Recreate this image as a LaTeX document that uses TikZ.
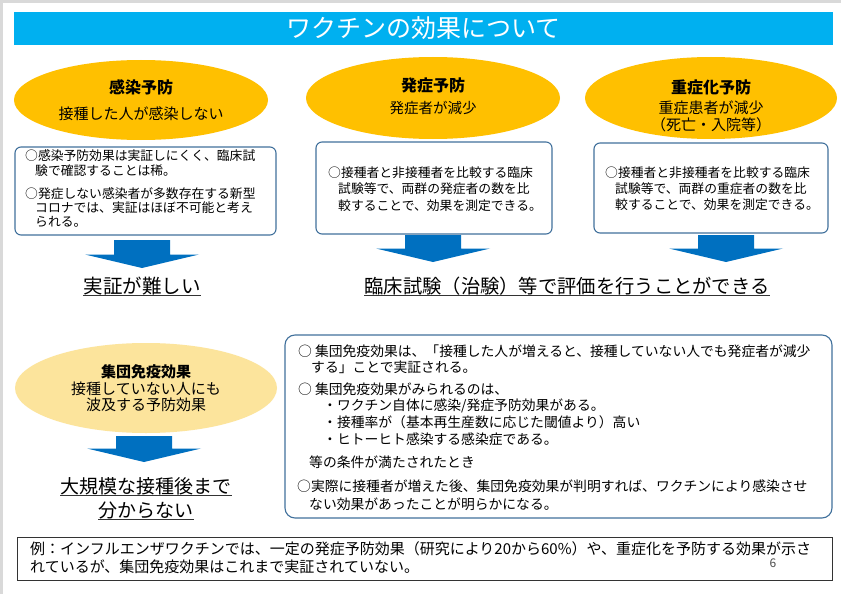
\documentclass[tikz,border=0pt]{standalone}
\usepackage{fontspec}
\setmainfont{Noto Sans CJK JP}
\usetikzlibrary{shapes.geometric,calc}
\definecolor{titleblue}{HTML}{00B0F0}
\definecolor{ellorange}{HTML}{FFC000}
\definecolor{elllight}{HTML}{FCE49C}
\definecolor{boxline}{HTML}{41719C}
\definecolor{arrowblue}{HTML}{0070C0}
\definecolor{framegray}{HTML}{D9D9D9}
\newcommand\blockarrow[4]{%
  \coordinate (#1) at (#2,#3);
  \fill[arrowblue] (#1) ++(-28,0) -- ++(56,0) -- ++(0,{#4-#3-13.5}) -- ++(29,0) -- (#2,#4) -- ++(-57,-13.5) -- ++(29,0) -- cycle;}
\tikzset{
  ell/.style={ellipse, fill=ellorange, inner sep=0pt},
  roundbox/.style={draw=boxline, line width=1.1pt, rounded corners=6pt, fill=white, inner sep=0pt},
  txt/.style={inner sep=0pt, align=left, text=black},
  ctxt/.style={inner sep=0pt, align=center, text=black},
  uline/.style={line width=0.9pt, draw=black!80}
}
\begin{document}
\begin{tikzpicture}[x=1pt,y=-1pt]
\useasboundingbox (0,0) rectangle (841,594);
\fill[white] (0,0) rectangle (841,594);
\draw[framegray, line width=3pt] (1.5,594) -- (1.5,1.5) -- (841,1.5);

% title
\node[fill=titleblue, minimum width=819pt, minimum height=33pt, inner sep=0pt,
      text=white, font=\fontsize{25}{25}\selectfont] (title) at (423.5,28.5) {ワクチンの効果について};

% top ellipses
\node[ell, minimum width=254pt, minimum height=80pt] (e1) at (141,100) {};
\node[ell, minimum width=254pt, minimum height=82pt] (e2) at (433,98) {};
\node[ell, minimum width=252pt, minimum height=82pt] (e3) at (711,98) {};
\node[ctxt, font=\fontsize{16}{16}\selectfont\bfseries] (e1a) at (141,87) {感染予防};
\node[ctxt, font=\fontsize{15}{15}\selectfont] (e1b) at (141,114) {接種した人が感染しない};
\node[ctxt, font=\fontsize{16}{16}\selectfont\bfseries] (e2a) at (433,85) {発症予防};
\node[ctxt, font=\fontsize{14.5}{14.5}\selectfont] (e2b) at (433,108) {発症者が減少};
\node[ctxt, font=\fontsize{16}{16}\selectfont\bfseries] (e3a) at (711,87) {重症化予防};
\node[ctxt, font=\fontsize{15}{15}\selectfont] (e3b) at (711,108) {重症患者が減少};
\node[ctxt, font=\fontsize{15}{15}\selectfont] (e3c) at (711,125) {（死亡・入院等）};

% top boxes
\node[roundbox, minimum width=261pt, minimum height=88pt] (b1) at (145.5,191) {};
\node[roundbox, minimum width=236pt, minimum height=92pt] (b2) at (434,188) {};
\node[roundbox, minimum width=234pt, minimum height=90pt] (b3) at (711,188) {};
% (base anchor of a multi-line node = baseline of its last line)
\node[txt, anchor=base west, font=\fontsize{12.8}{15}\selectfont] (b1p1) at (25,175)
  {○感染予防効果は実証しにくく、臨床試\\\hspace*{10pt}験で確認することは稀。};
\node[txt, anchor=base west, font=\fontsize{12.8}{14}\selectfont] (b1p2) at (25,226)
  {○発症しない感染者が多数存在する新型\\\hspace*{10pt}コロナでは、実証はほぼ不可能と考え\\\hspace*{10pt}られる。};
\node[txt, anchor=base west, font=\fontsize{12.8}{16.5}\selectfont] (b2p) at (328,210)
  {○接種者と非接種者を比較する臨床\\\hspace*{10pt}試験等で、両群の発症者の数を比\\\hspace*{10pt}較することで、効果を測定できる。};
\node[txt, anchor=base west, font=\fontsize{12.8}{16}\selectfont] (b3p) at (605,209)
  {○接種者と非接種者を比較する臨床\\\hspace*{10pt}試験等で、両群の重症者の数を比\\\hspace*{10pt}較することで、効果を測定できる。};

% arrows
\blockarrow{a1}{142}{240}{268}
\blockarrow{a2}{433}{235}{262}
\blockarrow{a3}{726}{235}{262}

% conclusions
\node[ctxt, anchor=base, font=\fontsize{19.5}{19.5}\selectfont] (c1) at (142,293) {実証が難しい};
\draw[uline] ($(c1.base west)+(0,2.5)$) -- ($(c1.base east)+(0,2.5)$);
\node[ctxt, anchor=base, font=\fontsize{19.3}{19.3}\selectfont] (c2) at (567,293) {臨床試験（治験）等で評価を行うことができる};
\draw[uline] ($(c2.base west)+(0,2.5)$) -- ($(c2.base east)+(0,2.5)$);

% herd immunity ellipse
\node[ell, fill=elllight, minimum width=262pt, minimum height=90pt] (e4) at (146,388) {};
\node[ctxt, font=\fontsize{15}{15}\selectfont\bfseries] (e4a) at (146,372) {集団免疫効果};
\node[ctxt, font=\fontsize{15}{15}\selectfont] (e4b) at (146,389) {接種していない人にも};
\node[ctxt, font=\fontsize{15}{15}\selectfont] (e4c) at (146,405) {波及する予防効果};
\blockarrow{a4}{144}{436}{462}
\node[ctxt, anchor=base, font=\fontsize{19}{19}\selectfont] (c3) at (146,493) {大規模な接種後まで};
\draw[uline] ($(c3.base west)+(0,2.5)$) -- ($(c3.base east)+(0,2.5)$);
\node[ctxt, anchor=base, font=\fontsize{19}{19}\selectfont] (c4) at (146,517) {分からない};
\draw[uline] ($(c4.base west)+(0,2.5)$) -- ($(c4.base east)+(0,2.5)$);

% big box
\node[roundbox, rounded corners=10pt, minimum width=547pt, minimum height=183pt] (bb) at (558.5,426.5) {};
\node[txt, anchor=base west, font=\fontsize{13.8}{16}\selectfont] (bb1) at (298,372)
  {○ 集団免疫効果は、「接種した人が増えると、接種していない人でも発症者が減少\\\hspace*{13pt}する」ことで実証される。};
\node[txt, anchor=base west, font=\fontsize{13.8}{13.8}\selectfont] (bb2) at (298,394)
  {○ 集団免疫効果がみられるのは、};
\node[txt, anchor=base west, font=\fontsize{13.8}{17}\selectfont] (bb3) at (323,444)
  {・ワクチン自体に感染/発症予防効果がある。\\・接種率が（基本再生産数に応じた閾値より）高い\\・ヒトーヒト感染する感染症である。};
\node[txt, anchor=base west, font=\fontsize{13.8}{13.8}\selectfont] (bb4) at (309,467)
  {等の条件が満たされたとき};
\node[txt, anchor=base west, font=\fontsize{13.8}{18}\selectfont] (bb5) at (297,509)
  {○実際に接種者が増えた後、集団免疫効果が判明すれば、ワクチンにより感染させ\\\hspace*{12pt}ない効果があったことが明らかになる。};

% bottom note
\node[draw=black!80, line width=0.8pt, minimum width=815pt, minimum height=43pt, inner sep=0pt] (note) at (424.5,558.5) {};
\node[txt, anchor=base west, font=\fontsize{15}{17.5}\selectfont] (notet) at (30,572)
  {例：インフルエンザワクチンでは、一定の発症予防効果（研究により20から60\%）や、重症化を予防する効果が示さ\\れているが、集団免疫効果はこれまで実証されていない。};
\node[ctxt, text=black!70, font=\fontsize{12}{12}\selectfont] (pg) at (773,563) {6};
\end{tikzpicture}
\end{document}
